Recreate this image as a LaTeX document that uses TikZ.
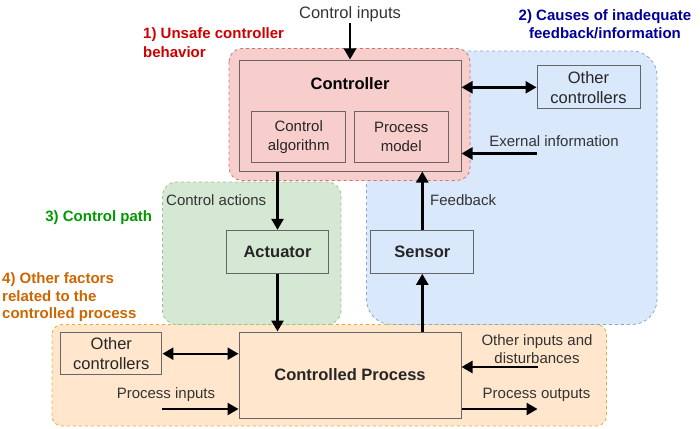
\documentclass[tikz,border=0pt]{standalone}
\usepackage{fontspec}
\setmainfont{Liberation Sans}
\usetikzlibrary{arrows.meta}
\definecolor{redfill}{HTML}{F8CECC}\definecolor{redline}{HTML}{B85450}
\definecolor{bluefill}{HTML}{DAE8FC}\definecolor{blueline}{HTML}{6C8EBF}
\definecolor{greenfill}{HTML}{D5E8D4}\definecolor{greenline}{HTML}{82B366}
\definecolor{orangefill}{HTML}{FFE6CC}\definecolor{orangeline}{HTML}{D79B00}
\definecolor{boxline}{HTML}{666666}
\begin{document}
\begin{tikzpicture}[x=1pt, y=-1pt,
  txt/.style={font=\fontsize{15}{18}\selectfont, text=black!80, align=center, inner sep=1pt},
  box/.style={draw=boxline, line width=1pt, align=center, inner sep=0pt,
    font=\fontsize{16.5}{20}\selectfont, text=black!85},
  boxtitle/.style={font=\bfseries\fontsize{16.5}{20}\selectfont, text=black, inner sep=0pt},
  region/.style={dashed, dash pattern=on 3pt off 3pt, line width=0.8pt},
  tag/.style={font=\bfseries\fontsize{15}{18.4}\selectfont, inner sep=0pt},
  arr/.style={line width=2.4pt, -{Triangle[length=11pt,width=12pt]}},
  both/.style={line width=2.4pt, {Triangle[length=11pt,width=12pt]}-{Triangle[length=11pt,width=12pt]}}]
  \useasboundingbox (0,0) rectangle (700,428);
  % Regions
  \draw[region, fill=orangefill, draw=orangeline!80, rounded corners=10pt] (52,324.5) rectangle (606.5,426);
  \draw[region, fill=greenfill, draw=greenline!80, rounded corners=14pt] (162.5,182) rectangle (341,324.5);
  \draw[region, fill=bluefill, draw=blueline!80, rounded corners=25pt] (366.5,51) rectangle (657,324.5);
  \draw[region, fill=redfill, draw=redline!80, rounded corners=13pt] (229,48.5) rectangle (470,180.5);
  % Region tags
  \node[tag, text=red!80!black, align=left, anchor=west] (tagunsafe) at (143,42.5) {1) Unsafe controller\\behavior};
  \node[tag, text=blue!60!black, align=center] (tagfeed) at (605,24) {2) Causes of inadequate\\feedback/information};
  \node[tag, text=green!60!black] (tagpath) at (98.7,218) {3) Control path};
  \node[tag, text=orange!80!black, align=left, anchor=west, font=\bfseries\fontsize{15}{17.5}\selectfont] (tagother) at (2,297.5) {4) Other factors\\related to the\\controlled process};
  % Controller
  \node[box, fill=redfill, minimum width=222pt, minimum height=111pt] (ctrl) at (350,115.5) {};
  \node[boxtitle] (ctrltitle) at (350,84) {Controller};
  \node[box, fill=redfill, minimum width=94pt, minimum height=51pt, font=\fontsize{15}{19}\selectfont] (alg) at (298.7,136.7) {Control\\algorithm};
  \node[box, fill=redfill, minimum width=94pt, minimum height=51pt, font=\fontsize{15}{19}\selectfont] (pmodel) at (401.2,136.7) {Process\\model};
  \node[txt, font=\fontsize{16.5}{20}\selectfont] (cin) at (350,14) {Control inputs};
  \node[box, fill=bluefill, minimum width=103pt, minimum height=42.7pt] (octop) at (588.5,87.3) {Other\\controllers};
  \node[txt] (extinfo) at (554,141) {Exernal information};
  \coordinate (exttail) at (537,153.5);
  % Actuator and sensor
  \node[box, fill=greenfill, minimum width=102.4pt, minimum height=42.7pt] (act) at (277.5,251.7) {\bfseries Actuator};
  \node[box, fill=bluefill, minimum width=102.7pt, minimum height=43pt] (sens) at (422.3,251.8) {\bfseries Sensor};
  \node[txt, anchor=west] (cact) at (165,200) {Control actions};
  \node[txt, anchor=west] (fback) at (429,200) {Feedback};
  % Controlled process
  \node[box, fill=orangefill, minimum width=222pt, minimum height=86pt] (proc) at (350,375) {\bfseries Controlled Process};
  \node[box, fill=orangefill, minimum width=101.3pt, minimum height=42pt] (ocbot) at (111.3,353.7) {Other\\controllers};
  \node[txt] (pin) at (166,394.7) {Process inputs};
  \node[txt] (odist) at (537,349) {Other inputs and\\disturbances};
  \node[txt] (pout) at (536.5,394.7) {Process outputs};
  \coordinate (pintail) at (162,409);
  \coordinate (disttail) at (537.5,367);
  \coordinate (pouthead) at (537.5,409);
  % Flows
  \draw[arr] (cin) -- (ctrl);
  \draw[both] (octop.west -| ctrl.east) -- (octop.west);
  \draw[arr] (exttail) -- (exttail -| ctrl.east);
  \draw[arr] (act.north |- ctrl.south) -- (act.north);
  \draw[arr] (act.south) -- (act.south |- proc.north);
  \draw[arr] (sens.south |- proc.north) -- (sens.south);
  \draw[arr] (sens.north) -- (sens.north |- ctrl.south);
  \draw[both] (ocbot.east) -- (ocbot.east -| proc.west);
  \draw[arr] (pintail) -- (pintail -| proc.west);
  \draw[arr] (disttail) -- (disttail -| proc.east);
  \draw[arr] (pouthead -| proc.east) -- (pouthead);
\end{tikzpicture}
\end{document}
